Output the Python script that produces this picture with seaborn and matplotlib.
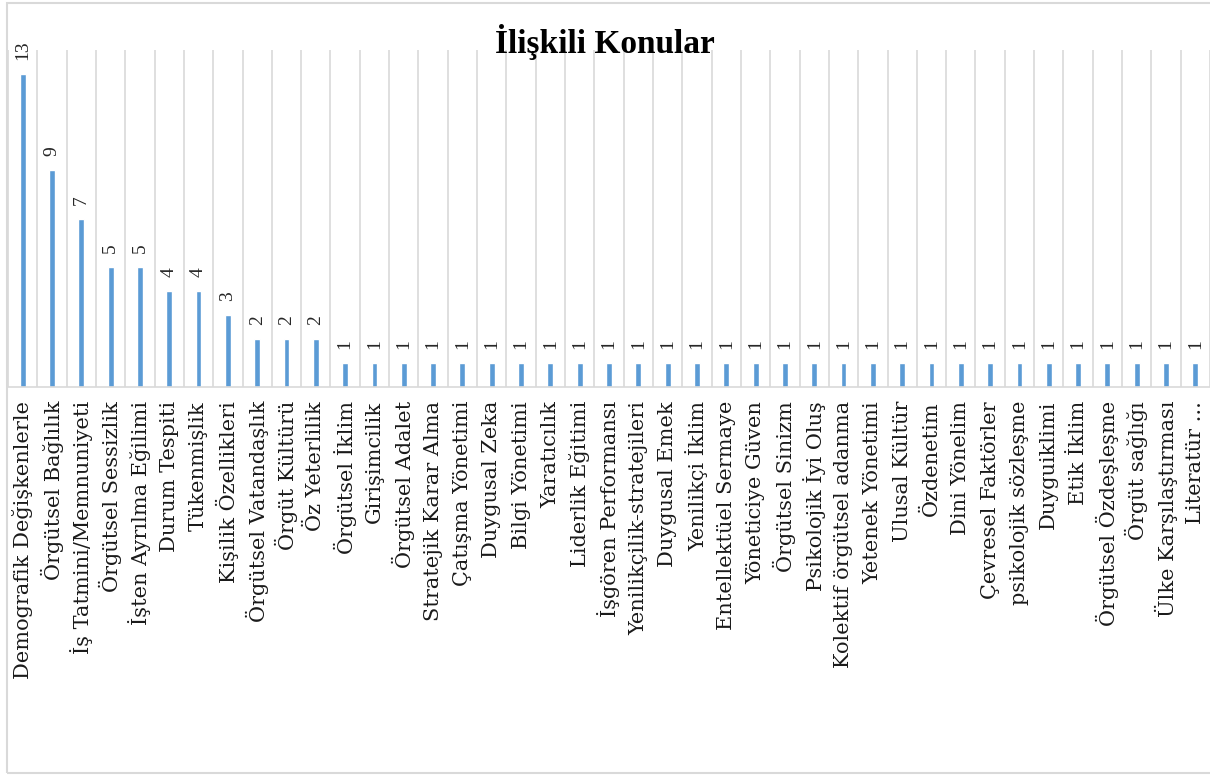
import matplotlib
matplotlib.use("Agg")
import matplotlib.pyplot as plt
import seaborn as sns
import pandas as pd
import numpy as np
from matplotlib.patches import Rectangle

konular = [
    "Demografik Değişkenlerle", "Örgütsel Bağlılık", "İş Tatmini/Memnuniyeti",
    "Örgütsel Sessizlik", "İşten Ayrılma Eğilimi", "Durum Tespiti", "Tükenmişlik",
    "Kişilik Özellikleri", "Örgütsel Vatandaşlık", "Örgüt Kültürü", "Öz Yeterlilik",
    "Örgütsel İklim", "Girişimcilik", "Örgütsel Adalet", "Stratejik Karar Alma",
    "Çatışma Yönetimi", "Duygusal Zeka", "Bilgi Yönetimi", "Yaratıcılık",
    "Liderlik Eğitimi", "İşgören Performansı", "Yenilikçilik-stratejileri",
    "Duygusal Emek", "Yenilikçi İklim", "Entellektüel Sermaye", "Yöneticiye Güven",
    "Örgütsel Sinizm", "Psikolojik İyi Oluş", "Kolektif örgütsel adanma",
    "Yetenek Yönetimi", "Ulusal Kültür", "Özdenetim", "Dini Yönelim",
    "Çevresel Faktörler", "psikolojik sözleşme", "Duyguiklimi", "Etik İklim",
    "Örgütsel Özdeşleşme", "Örgüt sağlığı", "Ülke Karşılaştırması", "Literatür ...",
]
sayilar = [13, 9, 7, 5, 5, 4, 4, 3, 2, 2, 2] + [1] * 30

df = pd.DataFrame({"konu": konular, "sayi": sayilar})

sns.set_theme(style="white")
plt.rcParams['font.family'] = ['DejaVu Serif']

fig = plt.figure(figsize=(12.1, 7.76), dpi=100)
ax = fig.add_axes([8 / 1210, 1 - 387 / 776, 1 - 8 / 1210, (387 - 50) / 776])

sns.barplot(data=df, x="konu", y="sayi", color="#5B9BD5", width=0.2,
            saturation=1, ax=ax)

# değer etiketleri
for cont in ax.containers:
    ax.bar_label(cont, rotation=90, padding=10, fontsize=14, color="#262626",
                 family="Liberation Serif")

n = len(konular)
ax.set_xlim(-0.5, n - 0.5)
ax.set_ylim(0, 14)
ax.set_xticks(np.arange(-0.5, n, 1.0), minor=True)
ax.grid(which="minor", axis="x", color="#D9D9D9", linewidth=1.2)
ax.grid(which="major", axis="both", visible=False)
ax.set_yticks([])
ax.set_xlabel("")
ax.set_ylabel("")
ax.tick_params(axis="x", which="both", length=0, pad=10)
ax.set_xticks(range(n))
ax.set_xticklabels(konular, rotation=90, fontsize=15, color="#1a1a1a")
for s in ["top", "left", "right"]:
    ax.spines[s].set_visible(False)
ax.spines["bottom"].set_color("#D9D9D9")
ax.spines["bottom"].set_linewidth(1.2)

fig.text(0.5, 1 - 42 / 776, "İlişkili Konular", ha="center", va="center",
         fontsize=24, fontweight="bold", family="Liberation Serif", color="black")

fig.patches.append(Rectangle((7 / 1210, 3 / 776), 1.0, 770 / 776, transform=fig.transFigure,
                             fill=False, edgecolor="#D9D9D9", linewidth=1.5))

fig.savefig("out.png", dpi=100, facecolor="white")
